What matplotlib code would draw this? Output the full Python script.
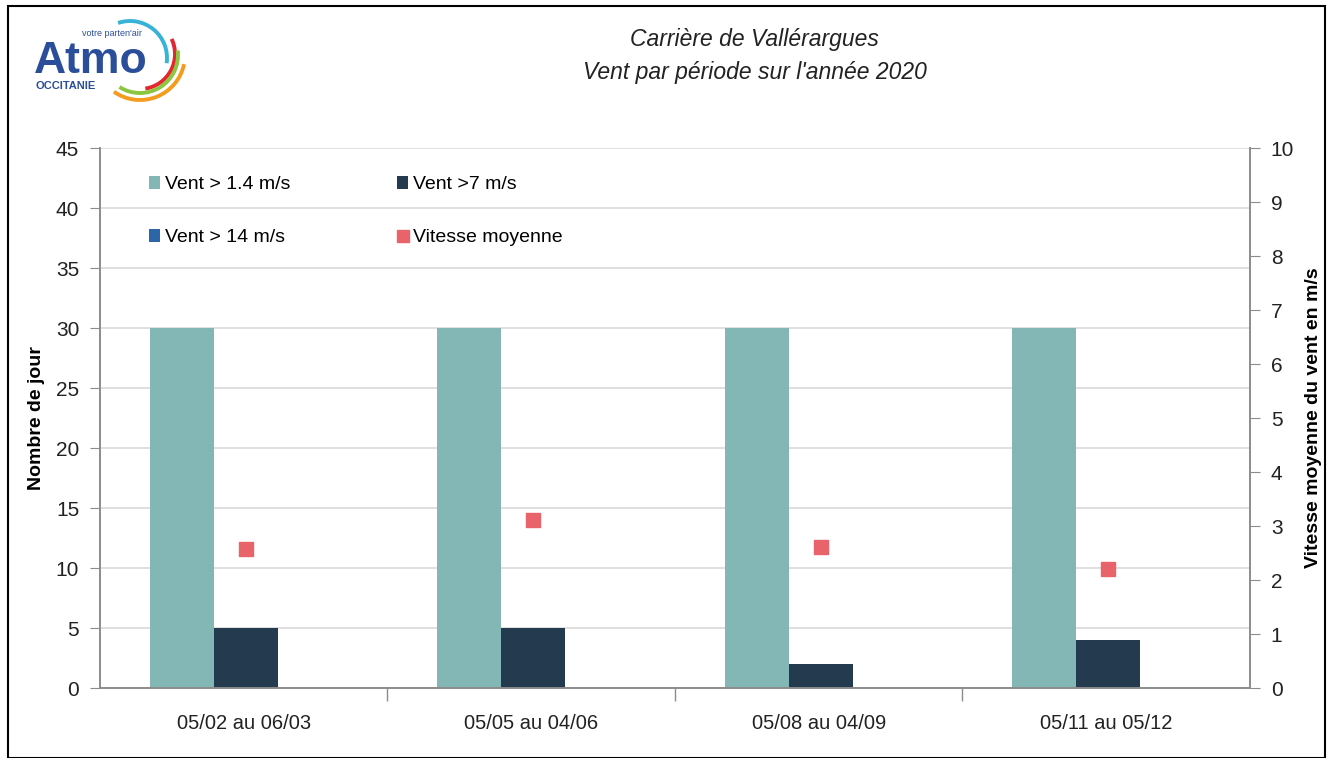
import numpy as np
import matplotlib.pyplot as plt
from matplotlib.patches import Rectangle, Arc

periods = ["05/02 au 06/03", "05/05 au 04/06", "05/08 au 04/09", "05/11 au 05/12"]
vent_14 = [30, 30, 30, 30]      # Vent > 1.4 m/s
vent_7 = [5, 5, 2, 4]           # Vent >7 m/s
vent_140 = [0, 0, 0, 0]         # Vent > 14 m/s
vitesse = [2.57, 3.11, 2.61, 2.20]

c_teal = "#82b7b6"
c_dark = "#233a4f"
c_blue = "#2b66a8"
c_red = "#e8636a"
grey = "#8c8c8c"

plt.rcParams['font.family'] = ['Liberation Sans', 'DejaVu Sans']

W, H = 1333, 758
fig = plt.figure(figsize=(W / 100, H / 100), dpi=100)
ax = fig.add_axes([0.075, 0.0923, 0.8627, 0.7124])
ax2 = ax.twinx()

x = np.arange(len(periods)) + 0.007
w = 0.223
b1 = ax.bar(x - w, vent_14, w, color=c_teal, label="Vent > 1.4 m/s", zorder=2)
b2 = ax.bar(x, vent_7, w, color=c_dark, label="Vent >7 m/s", zorder=2)
b3 = ax.bar(x + w, vent_140, w, color=c_blue, label="Vent > 14 m/s", zorder=2)
sc, = ax2.plot(x, vitesse, 's', color=c_red, markersize=10, label="Vitesse moyenne", zorder=3)

ax.set_xlim(-0.5, len(periods) - 0.5)
ax.set_ylim(0, 45)
ax.set_yticks(range(0, 46, 5))
ax2.set_ylim(0, 10)
ax2.set_yticks(range(0, 11))

ax.yaxis.grid(True, color="#d9d9d9", linewidth=1.2, zorder=0)
ax.set_axisbelow(True)

ax.set_xticks(np.arange(len(periods)))
ax.set_xticklabels(periods, fontsize=14.5, color="#222222")
ax.tick_params(axis='x', which='major', length=0, pad=19)
ax.set_xticks(np.arange(0.5, len(periods) - 0.5, 1), minor=True)
ax.tick_params(axis='x', which='minor', length=9, color=grey, width=1)

ax.tick_params(axis='y', labelsize=15, colors="#222222", length=7, color=grey, pad=8)
ax2.tick_params(axis='y', labelsize=15, colors="#222222", length=7, color=grey, pad=8)

for a in (ax, ax2):
    a.spines['top'].set_visible(False)
    for s in ('left', 'right', 'bottom'):
        a.spines[s].set_color(grey)
        a.spines[s].set_linewidth(1.2)

ax.set_ylabel("Nombre de jour", fontsize=14, fontweight='bold', labelpad=8)
ax2.set_ylabel("Vitesse moyenne du vent en m/s", fontsize=14, fontweight='bold', labelpad=8)

leg = ax.legend([b1, b3, b2, sc], ["Vent > 1.4 m/s", "Vent > 14 m/s", "Vent >7 m/s", "Vitesse moyenne"],
                ncol=2, loc='upper left', bbox_to_anchor=(0.027, 0.98), frameon=False,
                fontsize=14, handlelength=0.6, handleheight=0.6, handletextpad=0.25,
                columnspacing=5.47, labelspacing=1.85)
for h in leg.legend_handles:
    if hasattr(h, 'set_markersize'):
        h.set_markersize(9)

fig.text(0.566, 0.948, "Carrière de Vallérargues", ha='center', va='center',
         fontsize=16.5, style='italic', color="#222222")
fig.text(0.566, 0.904, "Vent par période sur l'année 2020", ha='center', va='center',
         fontsize=16.5, style='italic', color="#222222")

# logo
blue_logo = "#2a4e9a"
fig.text(34 / W, 1 - 73 / H, "Atmo", fontsize=32, fontweight='bold', color=blue_logo, va='baseline')
fig.text(35 / W, 1 - 86 / H, "OCCITANIE", fontsize=8, fontweight='bold', color=blue_logo, va='center')
fig.text(82 / W, 1 - 33 / H, "votre parten'air", fontsize=6.5, color=blue_logo, va='center')
# colour swirls: (colour, centre x, centre y, radius, start angle, end angle) in pixels
arc_specs = [("#36b3d6", 130, 58, 37, -14, 101), ("#e3262f", 140, 54, 35, -85, 40),
             ("#8cc63e", 140, 55, 38, -110, 12), ("#f39c1f", 140, 55, 45, -112, -20)]
for col, cx, cy, r, t1, t2 in arc_specs:
    fig.add_artist(Arc((cx / W, 1 - cy / H), 2 * r / W, 2 * r / H, theta1=t1, theta2=t2,
                       color=col, lw=2.8, transform=fig.transFigure))

fig.add_artist(Rectangle((0.006, 0.0), 0.988, 0.992, fill=False, edgecolor='black',
                         linewidth=1.5, transform=fig.transFigure))

fig.savefig("out.png", dpi=100)
